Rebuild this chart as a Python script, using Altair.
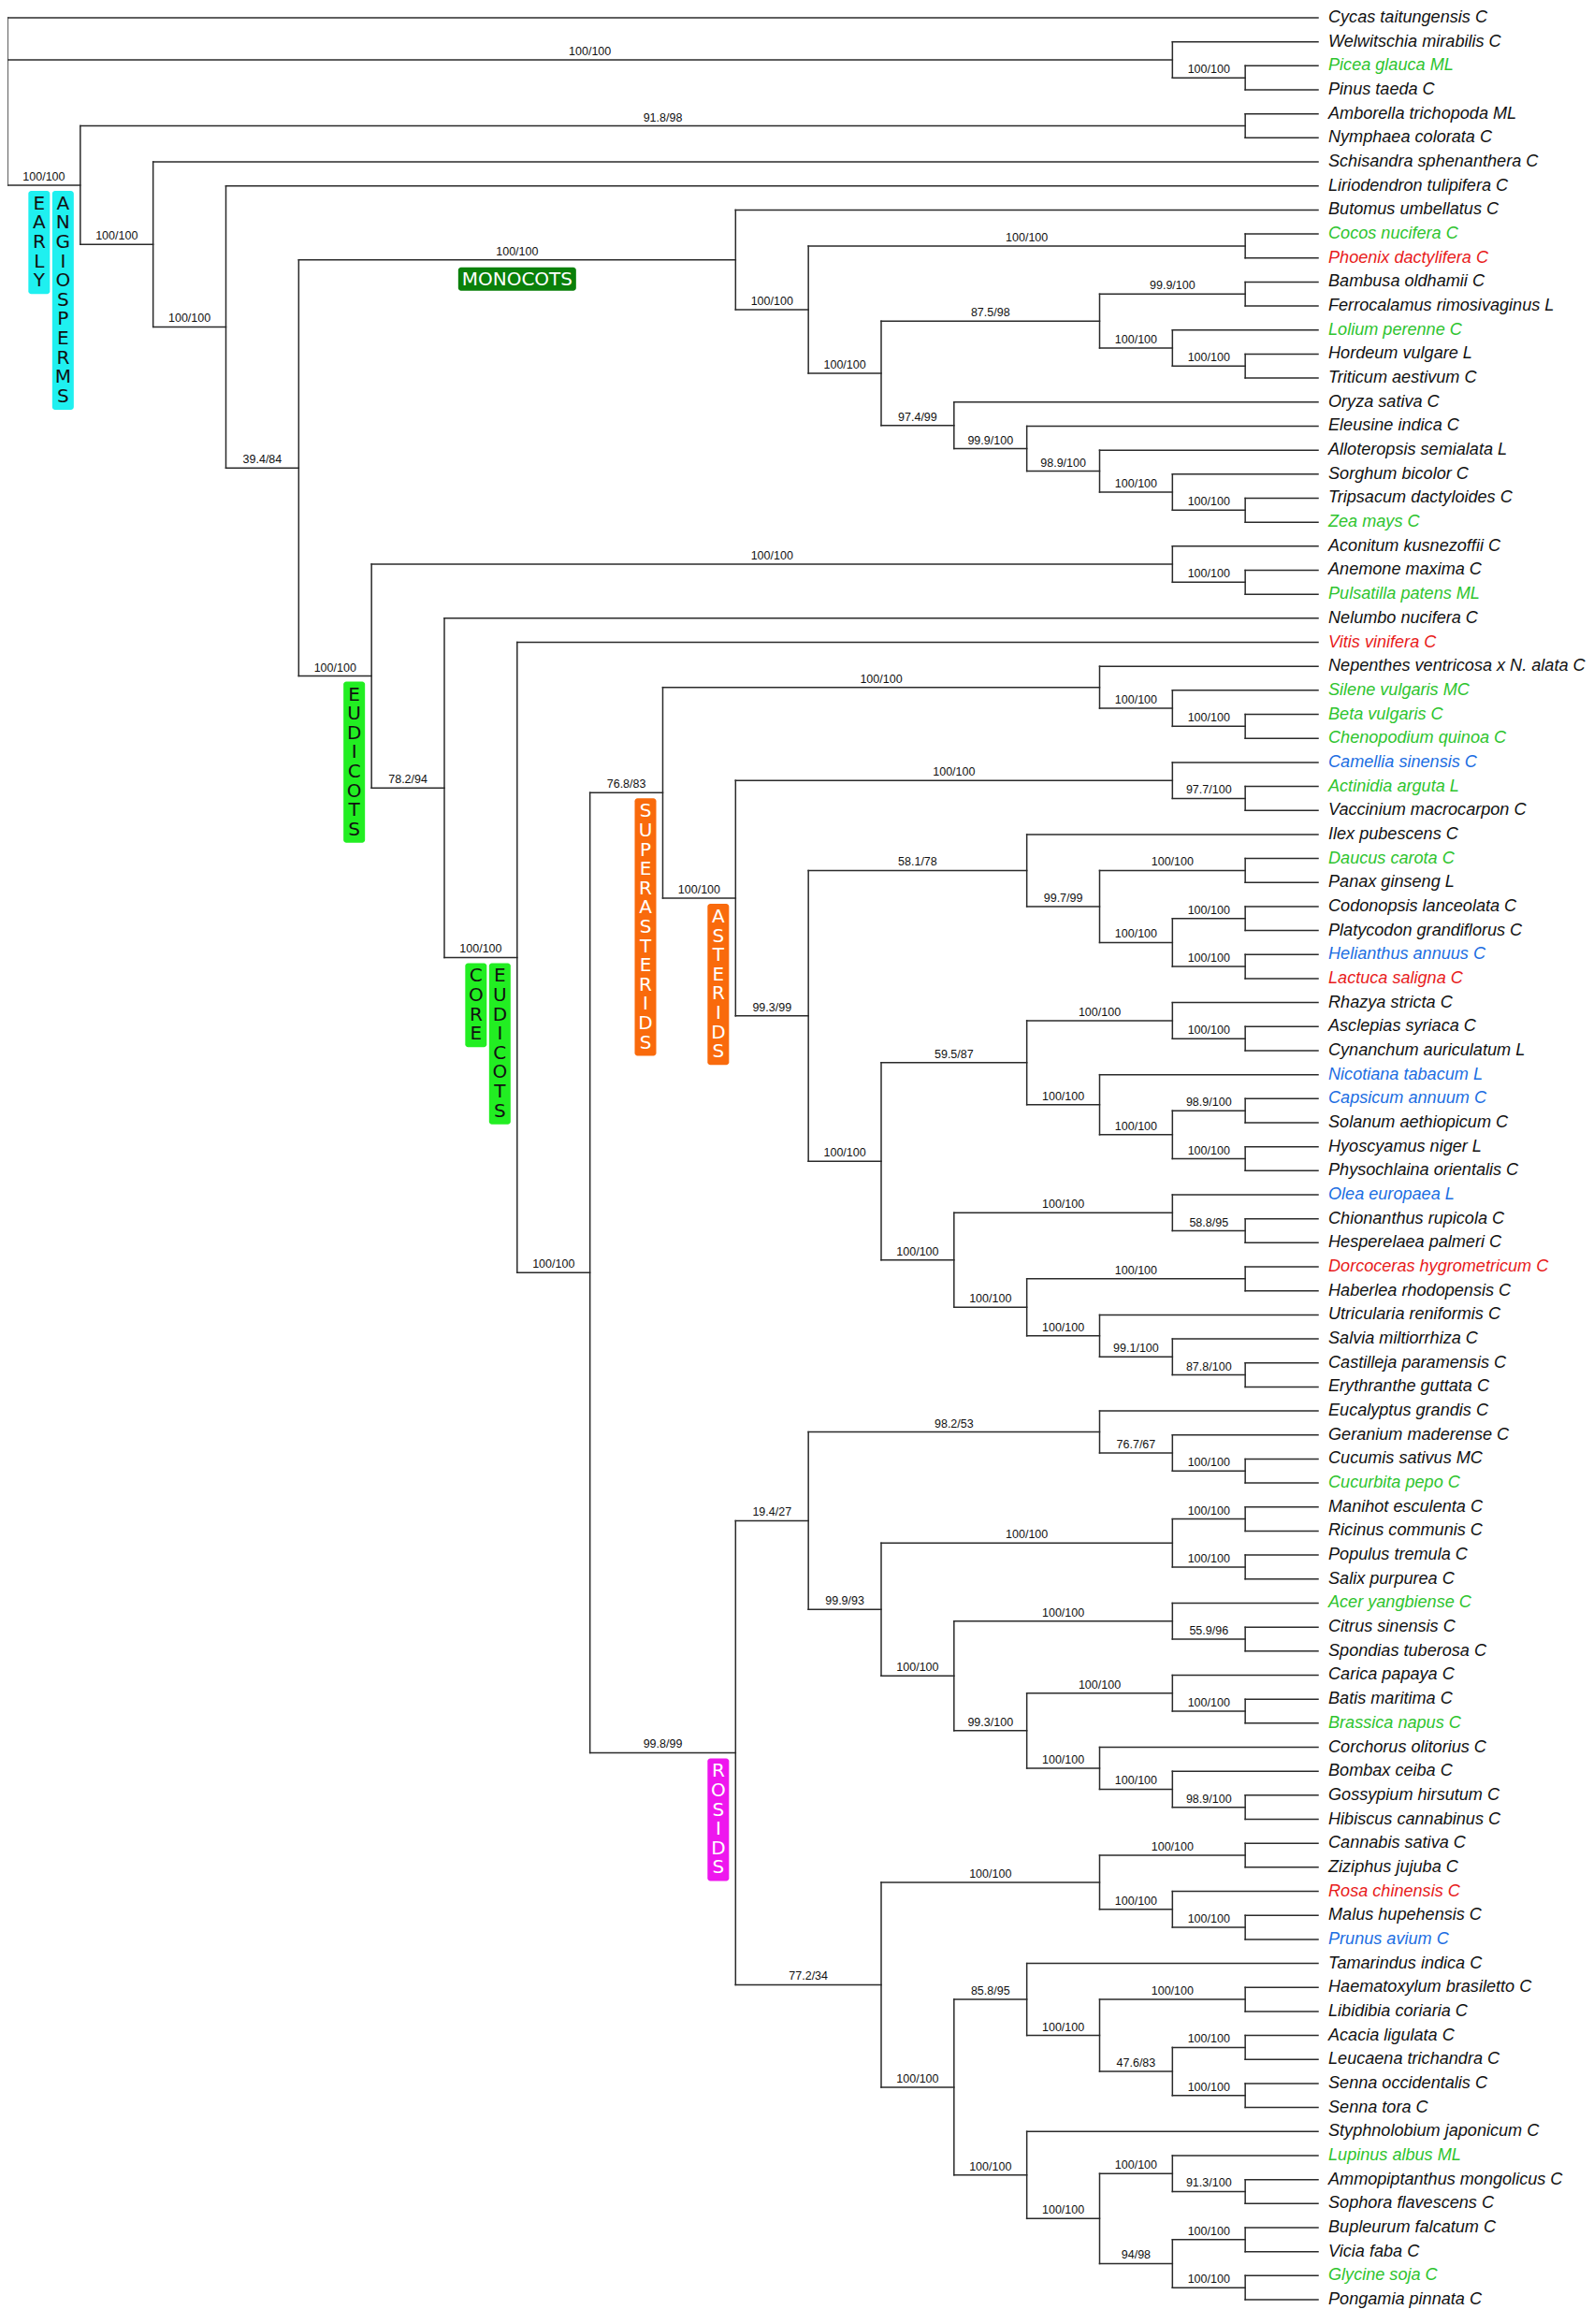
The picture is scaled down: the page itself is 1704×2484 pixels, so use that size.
import altair as alt
import pandas as pd

# ---------------- data: tree topology (Newick-like) with support values ----------------
GYMNOSPERMS = "(Welwitschia mirabilis C,(Picea glauca ML,Pinus taeda C)100/100)"
MONOCOTS = ("(Butomus umbellatus C,((Cocos nucifera C,Phoenix dactylifera C)100/100,"
            "(((Bambusa oldhamii C,Ferrocalamus rimosivaginus L)99.9/100,"
            "(Lolium perenne C,(Hordeum vulgare L,Triticum aestivum C)100/100)100/100)87.5/98,"
            "(Oryza sativa C,(Eleusine indica C,(Alloteropsis semialata L,(Sorghum bicolor C,"
            "(Tripsacum dactyloides C,Zea mays C)100/100)100/100)98.9/100)99.9/100)97.4/99)100/100)100/100)")
RANUNCULALES = "(Aconitum kusnezoffii C,(Anemone maxima C,Pulsatilla patens ML)100/100)"
CARYOPHYLLALES = ("(Nepenthes ventricosa x N. alata C,(Silene vulgaris MC,"
                  "(Beta vulgaris C,Chenopodium quinoa C)100/100)100/100)")
ERICALES = "(Camellia sinensis C,(Actinidia arguta L,Vaccinium macrocarpon C)97.7/100)"
CAMPANULIDS = ("(Ilex pubescens C,((Daucus carota C,Panax ginseng L)100/100,"
               "((Codonopsis lanceolata C,Platycodon grandiflorus C)100/100,"
               "(Helianthus annuus C,Lactuca saligna C)100/100)100/100)99.7/99)")
GENTIANALES = "(Rhazya stricta C,(Asclepias syriaca C,Cynanchum auriculatum L)100/100)"
SOLANALES = ("(Nicotiana tabacum L,((Capsicum annuum C,Solanum aethiopicum C)98.9/100,"
             "(Hyoscyamus niger L,Physochlaina orientalis C)100/100)100/100)")
OLEACEAE = "(Olea europaea L,(Chionanthus rupicola C,Hesperelaea palmeri C)58.8/95)"
LAMIALES = ("((Dorcoceras hygrometricum C,Haberlea rhodopensis C)100/100,"
            "(Utricularia reniformis C,(Salvia miltiorrhiza C,"
            "(Castilleja paramensis C,Erythranthe guttata C)87.8/100)99.1/100)100/100)")
MYRT_GER = "(Eucalyptus grandis C,(Geranium maderense C,(Cucumis sativus MC,Cucurbita pepo C)100/100)76.7/67)"
MALPIGHIALES = "((Manihot esculenta C,Ricinus communis C)100/100,(Populus tremula C,Salix purpurea C)100/100)"
SAPINDALES = "(Acer yangbiense C,(Citrus sinensis C,Spondias tuberosa C)55.9/96)"
BRASSICALES = "(Carica papaya C,(Batis maritima C,Brassica napus C)100/100)"
MALVALES = "(Corchorus olitorius C,(Bombax ceiba C,(Gossypium hirsutum C,Hibiscus cannabinus C)98.9/100)100/100)"
ROSALES = ("((Cannabis sativa C,Ziziphus jujuba C)100/100,"
           "(Rosa chinensis C,(Malus hupehensis C,Prunus avium C)100/100)100/100)")
FABALES_A = ("(Tamarindus indica C,((Haematoxylum brasiletto C,Libidibia coriaria C)100/100,"
             "((Acacia ligulata C,Leucaena trichandra C)100/100,"
             "(Senna occidentalis C,Senna tora C)100/100)47.6/83)100/100)")
FABALES_B = ("(Styphnolobium japonicum C,((Lupinus albus ML,"
             "(Ammopiptanthus mongolicus C,Sophora flavescens C)91.3/100)100/100,"
             "((Bupleurum falcatum C,Vicia faba C)100/100,(Glycine soja C,Pongamia pinnata C)100/100)94/98)100/100)")

LAMIIDS = f"(({GENTIANALES}100/100,{SOLANALES}100/100)59.5/87,({OLEACEAE}100/100,{LAMIALES}100/100)100/100)"
ASTERIDS = f"({ERICALES}100/100,({CAMPANULIDS}58.1/78,{LAMIIDS}100/100)99.3/99)"
SUPERASTERIDS = f"({CARYOPHYLLALES}100/100,{ASTERIDS}100/100)"
MALVIDS = f"({MALPIGHIALES}100/100,({SAPINDALES}100/100,({BRASSICALES}100/100,{MALVALES}100/100)99.3/100)100/100)"
ROSIDS = f"(({MYRT_GER}98.2/53,{MALVIDS}99.9/93)19.4/27,({ROSALES}100/100,({FABALES_A}85.8/95,{FABALES_B}100/100)100/100)77.2/34)"
CORE_EUDICOTS = f"(Vitis vinifera C,({SUPERASTERIDS}76.8/83,{ROSIDS}99.8/99)100/100)"
EUDICOTS = f"({RANUNCULALES}100/100,(Nelumbo nucifera C,{CORE_EUDICOTS}100/100)78.2/94)"
ANGIOSPERMS = (f"((Amborella trichopoda ML,Nymphaea colorata C)91.8/98,(Schisandra sphenanthera C,"
               f"(Liriodendron tulipifera C,({MONOCOTS}100/100,{EUDICOTS}100/100)39.4/84)100/100)100/100)")
TREE = f"(Cycas taitungensis C,{GYMNOSPERMS}100/100,{ANGIOSPERMS}100/100);"

GREEN_TAXA = ["Picea glauca ML", "Cocos nucifera C", "Lolium perenne C", "Zea mays C",
              "Pulsatilla patens ML", "Silene vulgaris MC", "Beta vulgaris C", "Chenopodium quinoa C",
              "Actinidia arguta L", "Daucus carota C", "Cucurbita pepo C", "Acer yangbiense C",
              "Brassica napus C", "Lupinus albus ML", "Glycine soja C"]
RED_TAXA = ["Phoenix dactylifera C", "Vitis vinifera C", "Lactuca saligna C",
            "Dorcoceras hygrometricum C", "Rosa chinensis C"]
BLUE_TAXA = ["Camellia sinensis C", "Helianthus annuus C", "Nicotiana tabacum L",
             "Capsicum annuum C", "Olea europaea L", "Prunus avium C"]

# clade labels: name, pair of member taxa (their MRCA is the labelled node), style
CLADE_NAMES = ["EARLY ANGIOSPERMS", "MONOCOTS", "EUDICOTS", "CORE EUDICOTS",
               "SUPERASTERIDS", "ASTERIDS", "ROSIDS"]
CLADE_MEMBERS = [("Amborella trichopoda ML", "Pongamia pinnata C"),
                 ("Butomus umbellatus C", "Zea mays C"),
                 ("Aconitum kusnezoffii C", "Pongamia pinnata C"),
                 ("Vitis vinifera C", "Pongamia pinnata C"),
                 ("Nepenthes ventricosa x N. alata C", "Erythranthe guttata C"),
                 ("Camellia sinensis C", "Erythranthe guttata C"),
                 ("Eucalyptus grandis C", "Pongamia pinnata C")]
CLADE_FILL = ["#1ff0f0", "#0a800a", "#22ee22", "#22ee22", "#f96a0c", "#f96a0c", "#ee16ee"]
CLADE_TEXT = ["#111111", "#ffffff", "#111111", "#111111", "#ffffff", "#ffffff", "#ffffff"]
CLADE_VERTICAL = [True, False, True, True, True, True, True]

# ---------------- parse & lay out the cladogram ----------------
def parse(s):
    pos = 0

    def read_label():
        nonlocal pos
        start = pos
        while pos < len(s) and s[pos] not in "(),;":
            pos += 1
        return s[start:pos].strip()

    def node():
        nonlocal pos
        if s[pos] == "(":
            pos += 1
            kids = [node()]
            while s[pos] == ",":
                pos += 1
                kids.append(node())
            pos += 1  # ')'
            return {"children": kids, "label": read_label()}
        return {"name": read_label()}

    return node()


root = parse(TREE)
leaves = []


def assign(n):
    if "name" in n:
        n["y"] = len(leaves)
        n["h"] = 0
        n["lo"] = n["hi"] = n["y"]
        leaves.append(n)
    else:
        for c in n["children"]:
            assign(c)
            c["parent"] = n
        n["h"] = 1 + max(c["h"] for c in n["children"])
        n["y"] = (n["children"][0]["y"] + n["children"][-1]["y"]) / 2
        n["lo"] = n["children"][0]["lo"]
        n["hi"] = n["children"][-1]["hi"]


assign(root)
MAXH = root["h"]
all_nodes = []


def walk(n):
    n["x"] = MAXH - n["h"]
    all_nodes.append(n)
    for c in n.get("children", []):
        walk(c)


walk(root)

segs, supports = [], []
for n in all_nodes:
    if "children" in n:
        kids = n["children"]
        segs.append({"x": n["x"], "x2": n["x"], "y": kids[0]["y"], "y2": kids[-1]["y"]})
        for c in kids:
            segs.append({"x": n["x"], "x2": c["x"], "y": c["y"], "y2": c["y"]})
            if c.get("label"):
                supports.append({"x": (n["x"] + c["x"]) / 2, "y": c["y"], "t": c["label"]})


def colour(name):
    if name in GREEN_TAXA:
        return "#2ec42e"
    if name in RED_TAXA:
        return "#e81b1b"
    if name in BLUE_TAXA:
        return "#1c6ee2"
    return "#111111"


leaf_df = pd.DataFrame([{"x": l["x"], "y": l["y"], "t": l["name"], "c": colour(l["name"])} for l in leaves])
seg_df = pd.DataFrame(segs)
sup_df = pd.DataFrame(supports)

# scale geometry (plot pixels per unit); page must not overflow 1704 x 2484
W, H = 1688, 2460
X_RANGE = [0, 1401]
Y_RANGE = [11, 2450]
PX = (X_RANGE[1] - X_RANGE[0]) / MAXH
PY = (Y_RANGE[1] - Y_RANGE[0]) / (len(leaves) - 1)


def mrca(a, b):
    ia = next(l["y"] for l in leaves if l["name"] == a)
    ib = next(l["y"] for l in leaves if l["name"] == b)
    lo, hi = min(ia, ib), max(ia, ib)
    cands = [n for n in all_nodes if "children" in n and n["lo"] <= lo and n["hi"] >= hi]
    return min(cands, key=lambda n: n["hi"] - n["lo"])


boxes, letters = [], []
for name, mem, fill, tcol, vert in zip(CLADE_NAMES, CLADE_MEMBERS, CLADE_FILL, CLADE_TEXT, CLADE_VERTICAL):
    nd = mrca(*mem)
    if vert:
        words = name.split()
        top = nd["y"] + 6 / PY
        for j, w in enumerate(reversed(words)):
            right = nd["x"] - (7 + j * 25.5) / PX
            left = right - 23 / PX
            bottom = top + (28 + (len(w) - 1) * 20.6) / PY
            boxes.append({"x": left, "x2": right, "y": top, "y2": bottom, "f": fill})
            for k, ch in enumerate(w):
                letters.append({"x": (left + right) / 2, "y": top + (14 + k * 20.6) / PY,
                                "t": ch, "c": tcol, "s": 20})
    else:
        cx = (nd["parent"]["x"] + nd["x"]) / 2
        top = nd["y"] + 8 / PY
        boxes.append({"x": cx - 63 / PX, "x2": cx + 63 / PX, "y": top, "y2": top + 25 / PY, "f": fill})
        letters.append({"x": cx, "y": top + 13 / PY, "t": name, "c": tcol, "s": 20})

box_df = pd.DataFrame(boxes)
let_df = pd.DataFrame(letters)

XS = alt.Scale(domain=[0, MAXH], range=X_RANGE, nice=False, zero=False)
YS = alt.Scale(domain=[0, len(leaves) - 1], range=Y_RANGE, nice=False, zero=False)

lines = alt.Chart(seg_df).mark_rule(color="#2a2a2a", strokeWidth=1.5, strokeCap="square").encode(
    x=alt.X("x:Q", scale=XS, axis=None), x2="x2:Q",
    y=alt.Y("y:Q", scale=YS, axis=None), y2="y2:Q")

leaf_text = alt.Chart(leaf_df).mark_text(
    align="left", baseline="middle", dx=11, font="Liberation Sans", fontStyle="italic", fontSize=18.1
).encode(x=alt.X("x:Q", scale=XS, axis=None), y=alt.Y("y:Q", scale=YS, axis=None),
         text="t:N", color=alt.Color("c:N", scale=None))

sup_text = alt.Chart(sup_df).mark_text(
    align="center", baseline="alphabetic", dy=-5, font="Liberation Sans", fontSize=12.5, color="#111111"
).encode(x=alt.X("x:Q", scale=XS, axis=None), y=alt.Y("y:Q", scale=YS, axis=None), text="t:N")

box_marks = alt.Chart(box_df).mark_rect(cornerRadius=3).encode(
    x=alt.X("x:Q", scale=XS, axis=None), x2="x2:Q",
    y=alt.Y("y:Q", scale=YS, axis=None), y2="y2:Q",
    fill=alt.Fill("f:N", scale=None))

letter_marks = alt.Chart(let_df).mark_text(align="center", baseline="middle", font="DejaVu Sans").encode(
    x=alt.X("x:Q", scale=XS, axis=None), y=alt.Y("y:Q", scale=YS, axis=None),
    text="t:N", color=alt.Color("c:N", scale=None), size=alt.Size("s:Q", scale=None))

chart = alt.layer(lines, sup_text, leaf_text, box_marks, letter_marks).properties(
    width=W, height=H, padding=0, autosize=alt.AutoSizeParams(type="none")
).configure_view(strokeWidth=0)

chart.save("out.html", embed_options={"renderer": "svg", "actions": False})
